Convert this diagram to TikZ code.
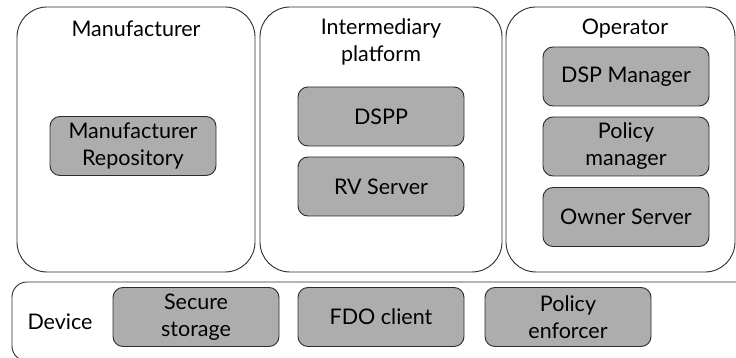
\documentclass[tikz,border=0pt]{standalone}
\usepackage{fontspec}
\setmainfont{Lato}
\definecolor{boxgray}{HTML}{ADADAD}
\definecolor{edge}{HTML}{2B2B2B}
\begin{document}
\begin{tikzpicture}[x=1pt,y=-1pt,
  bigbox/.style={draw=edge,line width=0.9pt,rounded corners=30pt,fill=white,minimum height=265pt,inner sep=0pt},
  part/.style={draw=edge,line width=0.9pt,rounded corners=10pt,fill=boxgray,minimum width=166pt,minimum height=59pt,inner sep=0pt,align=center,font=\fontsize{21.5}{27}\selectfont},
  title/.style={align=center,font=\fontsize{21.5}{27}\selectfont,inner sep=0pt}]
\useasboundingbox (0,0) rectangle (736,358);
\clip (0,0) rectangle (736,358);
% containers
\node[bigbox,minimum width=238pt] (man) at (136,139.5) {};
\node[bigbox,minimum width=242pt] (inter) at (381,139.5) {};
\node[bigbox,minimum width=229pt] (oper) at (620.5,139.5) {};
\node[draw=edge,line width=0.9pt,rounded corners=15pt,fill=white,minimum width=770pt,minimum height=79pt,inner sep=0pt] (dev) at (397,321.5) {};
% titles
\node[title] (tman) at (136,29) {Manufacturer};
\node[title] (tinter) at (381,42) {Intermediary\\platform};
\node[title] (toper) at (625,29) {Operator};
\node[title] (tdev) at (60,322) {Device};
% parts
\node[part] (repo) at (133,146) {Manufacturer\\Repository};
\node[part] (dspp) at (381,116.5) {DSPP};
\node[part] (rv) at (381,186.5) {RV Server};
\node[part] (dspm) at (626,76.5) {DSP Manager};
\node[part] (polm) at (626,146.5) {Policy\\manager};
\node[part] (owner) at (626,217) {Owner Server};
\node[part] (sec) at (196,317) {Secure\\storage};
\node[part] (fdo) at (381,317) {FDO client};
\node[part] (pol) at (568,317) {Policy\\enforcer};
\end{tikzpicture}
\end{document}
